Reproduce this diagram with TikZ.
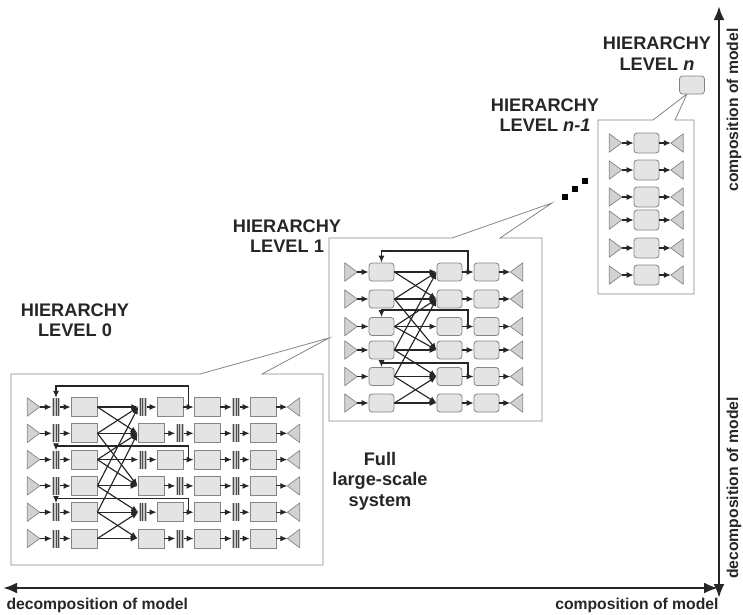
\documentclass[tikz,border=0pt]{standalone}
\usepackage{fontspec}
\setmainfont{Liberation Sans}
\usetikzlibrary{arrows.meta, positioning, calc}
\definecolor{boxfill}{HTML}{E4E4E4}
\definecolor{boxline}{HTML}{858585}
\definecolor{barline}{HTML}{4A4A4A}

\tikzset{
  blk/.style={draw=boxline, fill=boxfill, minimum width=26, minimum height=19, inner sep=0, line width=0.8},
  rblk/.style={blk, minimum width=25, minimum height=18, rounded corners=3},
  bar/.style={fill=boxfill!70!gray, minimum width=8, minimum height=18, inner sep=0,
    path picture={\foreach \dx in {-2.6,0,2.6}
      \draw[barline, line width=0.8] ([xshift=\dx pt]path picture bounding box.north) -- ([xshift=\dx pt]path picture bounding box.south);}},
  trisrc/.style={minimum width=12, minimum height=18, inner sep=0},
  tri/.style={draw=boxline, fill=boxfill!92!black, line width=0.7, line join=round},
  arr/.style={-{Latex[length=7pt, width=6pt]}, line width=1.15, black!85},
  frame/.style={draw=boxline, line width=0.8},
  lvl/.style={font=\fontsize{18.2}{20.5}\selectfont\bfseries, align=center, text=black!85},
  axlbl/.style={font=\fontsize{15.7}{18}\selectfont\bfseries, text=black!85},
  axis/.style={{Latex[length=14pt,width=11pt]}-{Latex[length=14pt,width=11pt]}, line width=2.6, black!85},
  dot/.style={fill=black, minimum size=5.5, inner sep=0},
}

\begin{document}
\begin{tikzpicture}[x=1pt, y=-1pt]
\useasboundingbox (0,0) rectangle (743,614);

% Level 0: full system
\draw[frame] (11,374) -- (200,374) -- (329,338) -- (262,374) -- (323,374) -- (323,565) -- (11,565) -- cycle;
\foreach \i in {1,...,6} {
  \pgfmathsetmacro\ry{407+26.3*(\i-1)}
  \node[trisrc] (z-src-\i) at (33.5,\ry) {};
  \node[bar] (z-bara-\i) at (56,\ry) {};
  \node[blk] (z-boxa-\i) at (84,\ry) {};
  \ifodd\i
    \node[bar] (z-in-\i) at (142.5,\ry) {};
    \node[blk] (z-mid-\i) at (170,\ry) {};
  \else
    \node[blk] (z-in-\i) at (151,\ry) {};
    \node[bar] (z-mid-\i) at (179.5,\ry) {};
  \fi
  \node[blk] (z-boxc-\i) at (207,\ry) {};
  \node[bar] (z-barc-\i) at (236,\ry) {};
  \node[blk] (z-boxd-\i) at (263,\ry) {};
  \node[trisrc] (z-snk-\i) at (293.5,\ry) {};
  \draw[tri] (z-src-\i.north west) -- (z-src-\i.east) -- (z-src-\i.south west) -- cycle;
  \draw[tri] (z-snk-\i.north east) -- (z-snk-\i.west) -- (z-snk-\i.south east) -- cycle;
  \draw[arr] (z-src-\i) -- (z-bara-\i);
  \draw[arr] (z-bara-\i) -- (z-boxa-\i);
  \draw[arr] (z-in-\i) -- (z-mid-\i);
  \draw[arr] (z-mid-\i) -- (z-boxc-\i);
  \draw[arr] (z-boxc-\i) -- (z-barc-\i);
  \draw[arr] (z-barc-\i) -- (z-boxd-\i);
  \draw[arr] (z-boxd-\i) -- (z-snk-\i);
}
\foreach \a/\b in {1/1,1/2,2/1,2/2,2/4,3/2,3/3,3/4,4/1,4/4,4/5,5/2,5/5,5/6,6/5,6/6}
  \draw[arr] (z-boxa-\a.east) -- (z-in-\b.west);
\foreach \i/\h in {1/21,3/13.6,5/14} {
  \coordinate (z-tap-\i) at ($(z-mid-\i.east)!0.5!(z-boxc-\i.west)$);
  \draw[arr] (z-tap-\i) -- ++(0,-\h) -| (z-bara-\i.north);
}

% Level 1
\draw[frame] (329,238) -- (452,238) -- (552,203) -- (500,238) -- (542,238) -- (542,421) -- (329,421) -- cycle;
\foreach \i/\ry in {1/272, 2/299, 3/326.5, 4/350, 5/376.5, 6/403} {
  \node[trisrc] (o-src-\i) at (351,\ry) {};
  \node[rblk] (o-boxa-\i) at (381.5,\ry) {};
  \node[rblk] (o-in-\i) at (449.5,\ry) {};
  \node[rblk] (o-boxc-\i) at (486.5,\ry) {};
  \node[trisrc] (o-snk-\i) at (516.5,\ry) {};
  \draw[tri] (o-src-\i.north west) -- (o-src-\i.east) -- (o-src-\i.south west) -- cycle;
  \draw[tri] (o-snk-\i.north east) -- (o-snk-\i.west) -- (o-snk-\i.south east) -- cycle;
  \draw[arr] (o-src-\i) -- (o-boxa-\i);
  \draw[arr] (o-in-\i) -- (o-boxc-\i);
  \draw[arr] (o-boxc-\i) -- (o-snk-\i);
}
\foreach \a/\b in {1/1,1/2,2/1,2/2,2/4,3/2,3/3,3/4,4/1,4/4,4/5,5/2,5/5,5/6,6/5,6/6}
  \draw[arr] (o-boxa-\a.east) -- (o-in-\b.west);
\foreach \i/\h in {1/21,3/16.5,5/13.5} {
  \coordinate (o-tap-\i) at ($(o-in-\i.east)!0.5!(o-boxc-\i.west)$);
  \draw[arr] (o-tap-\i) -- ++(0,-\h) -| (o-boxa-\i.north);
}

% Level n-1
\draw[frame] (598,120) -- (653,120) -- (687,94) -- (675,120) -- (694,120) -- (694,294) -- (598,294) -- cycle;
\foreach \i/\ry in {1/143, 2/170, 3/197, 4/220, 5/248, 6/275} {
  \node[trisrc] (m-src-\i) at (615.5,\ry) {};
  \node[rblk, minimum height=20] (m-box-\i) at (646.5,\ry) {};
  \node[trisrc] (m-snk-\i) at (677,\ry) {};
  \draw[tri] (m-src-\i.north west) -- (m-src-\i.east) -- (m-src-\i.south west) -- cycle;
  \draw[tri] (m-snk-\i.north east) -- (m-snk-\i.west) -- (m-snk-\i.south east) -- cycle;
  \draw[arr] (m-src-\i) -- (m-box-\i);
  \draw[arr] (m-box-\i) -- (m-snk-\i);
}

% Level n
\node[rblk] (top) at (692,85) {};

% dots between levels
\node[dot] (dot-a) at (565,197) {};
\node[dot] (dot-b) at (575,189) {};
\node[dot] (dot-c) at (585,181) {};

% Labels
\node[lvl] (lab-n) at (657,53.5) {HIERARCHY\\LEVEL \textit{n}};
\node[lvl] (lab-n1) at (545,115) {HIERARCHY\\LEVEL \textit{n-1}};
\node[lvl] (lab-1) at (287,236) {HIERARCHY\\LEVEL 1};
\node[lvl] (lab-0) at (75,320) {HIERARCHY\\LEVEL 0};
\node[lvl] (full) at (380,481) {Full\\large-scale\\system};

% Axes
\coordinate (ax-l) at (3,588);
\coordinate (ax-r) at (718,588);
\coordinate (ax-t) at (719,6);
\coordinate (ax-b) at (719,598);
\draw[axis] (ax-l) -- (ax-r);
\draw[axis] (ax-t) -- (ax-b);
\node[axlbl, anchor=west] (dec-h) at (3,605) {decomposition of model};
\node[axlbl, anchor=east] (com-h) at (722,605) {composition of model};
\node[axlbl, rotate=90] (com-v) at (734,110) {composition of model};
\node[axlbl, rotate=90] (dec-v) at (734,488) {decomposition of model};
\end{tikzpicture}
\end{document}
